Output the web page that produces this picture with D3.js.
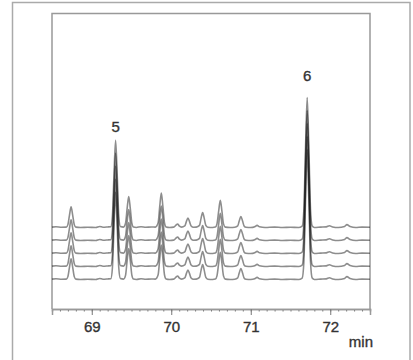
<html>
<meta charset="utf-8">
<script src="https://cdn.jsdelivr.net/npm/d3@7"></script>
<style>
body{
  margin: 0;
  background: white;
}
.trace{
  fill: none;
  stroke: #111;
  stroke-opacity: 0.48;
  stroke-width: 1.6;
}
.frame{
  fill: none;
  stroke: #999;
  stroke-width: 1.5;
}
text{
  font-family: "Liberation Sans", Arial, sans-serif;
  fill: #333;
  stroke: #333;
  stroke-width: 0.35;
}
.axis text{
  font-size: 15px;
}
</style>
<body>
<div id="chart"></div>
<script>
// retention time (min) and detector signal (arbitrary units)
var times = [68.50, 68.55, 68.62, 68.68, 68.70, 68.72, 68.74, 68.76, 68.78, 68.80,
  68.86, 68.95, 69.05, 69.10, 69.14, 69.20, 69.24, 69.26, 69.28, 69.30,
  69.32, 69.34, 69.36, 69.40, 69.425, 69.445, 69.465, 69.485, 69.505, 69.525,
  69.56, 69.62, 69.68, 69.75, 69.80, 69.835, 69.855, 69.875, 69.895, 69.915,
  69.935, 69.98, 70.03, 70.06, 70.08, 70.10, 70.13, 70.17, 70.19, 70.21,
  70.23, 70.25, 70.28, 70.315, 70.355, 70.375, 70.395, 70.415, 70.435, 70.46,
  70.52, 70.555, 70.575, 70.597, 70.617, 70.637, 70.657, 70.68, 70.74, 70.80,
  70.836, 70.856, 70.876, 70.896, 70.916, 70.94, 71.00, 71.05, 71.08, 71.11,
  71.18, 71.30, 71.40, 71.50, 71.60, 71.647, 71.668, 71.689, 71.71, 71.731,
  71.752, 71.773, 71.80, 71.88, 71.95, 71.99, 72.03, 72.10, 72.18, 72.21,
  72.25, 72.32, 72.40, 72.50];
var signal = [0.3, 0.6, 0.2, 0.3, 2.2, 9.5, 16, 9.5, 2.2, 0.3,
  0, 0.2, 0, 0.8, 0.2, 0.4, 0.6, 9, 40.6, 67,
  40.6, 9, 0.7, 0.3, 3.2, 14.5, 23.8, 14.5, 3.2, 0.3,
  0, 0.6, 0.2, 0.4, 0.3, 3.6, 16, 26.5, 16, 3.6,
  0.4, 0, 0.3, 1.8, 2.7, 1.2, 0.3, 1.2, 4.5, 7.3,
  4.5, 1.2, 0.2, 0.3, 1.6, 7, 11.5, 7, 1.6, 0.2,
  0, 0.3, 2.8, 12.8, 21, 12.8, 2.8, 0.3, 0, 0.2,
  1.2, 5.2, 8.5, 5.2, 1.2, 0.2, 0, 0.6, 1.6, 0.5,
  0, 0.3, 0, 0.2, 0, 1.1, 13.5, 60.7, 100, 60.7,
  13.5, 1.1, 0, 0.3, 0.5, 1.3, 0.4, 0, 0.8, 2.2,
  0.7, 0, 0.3, 0.2];

var runs = ["Run 1", "Run 2", "Run 3", "Run 4", "Run 5"];

var majorTicks = [69, 70, 71, 72];
var minorTicks = d3.range(685, 726).map(function(d){ return d / 10; });

var peakNames = ["5", "6"];
var peakTimes = [69.30, 71.71];
var peakLabelLevels = [113.7, 153];   // label height in signal units

var width = 413, height = 360;
var plotLeft = 52, plotRight = 370, plotTop = 13.5, plotBottom = 309;
var runOffset = 10;   // vertical spacing between runs, in signal units

var svg = d3.select("#chart").append("svg")
  .attr("width", width)
  .attr("height", height);

// outer border
svg.append("rect")
  .attr("x", 12.5).attr("y", 2.5)
  .attr("width", 397.5).attr("height", 370)
  .attr("fill", "none")
  .attr("stroke", "#aaa")
  .attr("stroke-width", 1.5);

var x = d3.scaleLinear().domain([68.5, 72.5]).range([plotLeft, plotRight]);
var y = d3.scaleLinear().domain([-22.7, 204.6]).range([plotBottom, plotTop]);

// inner frame (left, top, right)
svg.append("path")
  .attr("class", "frame")
  .attr("d", "M" + plotLeft + "," + plotBottom + "V" + plotTop + "H" + plotRight + "V" + plotBottom);

var points = times.map(function(t, i){ return [t, signal[i]]; });

var line = d3.line()
  .curve(d3.curveMonotoneX)
  .x(function(d){ return x(d[0]); });

svg.append("g").selectAll(".trace")
  .data(runs)
  .enter()
  .append("path")
  .attr("class", "trace")
  .attr("d", function(r, i){
    return line.y(function(d){ return y(d[1] + i * runOffset); })(points);
  });

// x axis
var axisG = svg.append("g")
  .attr("class", "axis")
  .attr("transform", "translate(0," + plotBottom + ")");

axisG.call(d3.axisBottom(x).tickValues(minorTicks).tickSize(2.5).tickFormat(""));
axisG.append("g")
  .call(d3.axisBottom(x).tickValues(majorTicks).tickSize(6).tickFormat(d3.format("d")));

axisG.selectAll("g").attr("font-size", null).attr("font-family", null);
axisG.attr("font-size", null).attr("font-family", null);
axisG.selectAll(".domain").attr("stroke", "#999").attr("stroke-width", 1.5);
axisG.selectAll(".tick line").attr("stroke", "#777");
axisG.selectAll(".tick text")
  .attr("y", 12)
  .attr("dy", "0.71em")
  .attr("fill", "#333");

svg.append("text")
  .attr("x", 373)
  .attr("y", 347)
  .attr("text-anchor", "end")
  .style("font-size", "15px")
  .text("min");

// peak labels
svg.append("g").selectAll("text")
  .data(peakNames)
  .enter()
  .append("text")
  .attr("x", function(d, i){ return x(peakTimes[i]); })
  .attr("y", function(d, i){ return y(peakLabelLevels[i]); })
  .attr("text-anchor", "middle")
  .style("font-size", "15px")
  .text(function(d){ return d; });
</script>
</body>
</html>
